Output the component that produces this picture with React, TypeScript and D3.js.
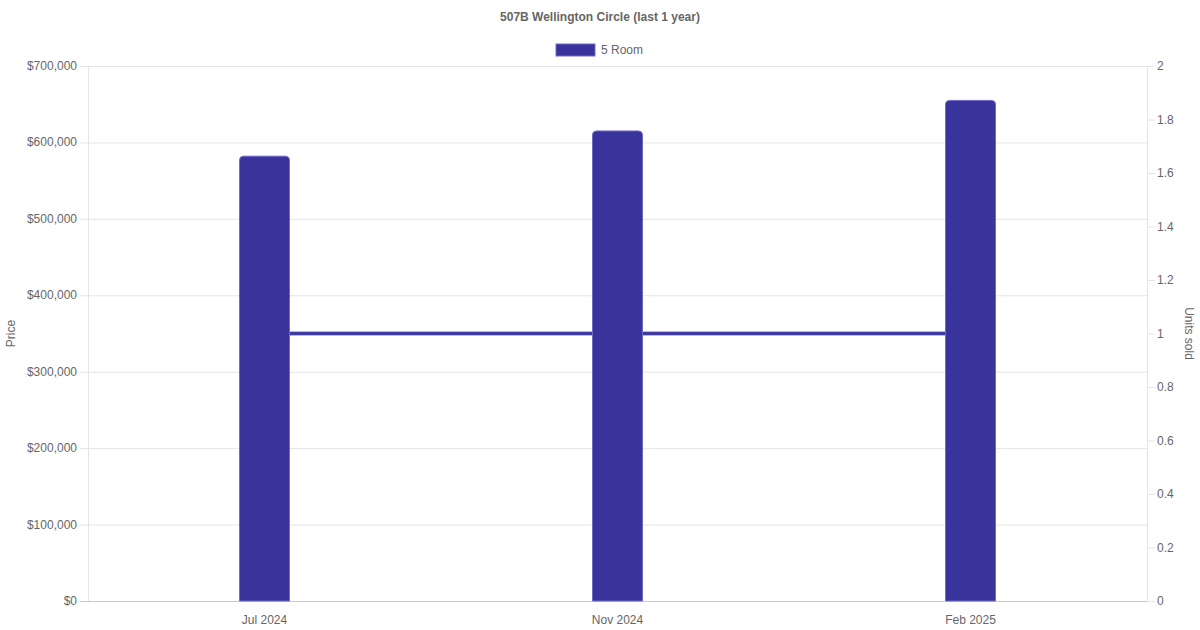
import React from "react";
import * as d3 from "d3";

const categories = ["Jul 2024", "Nov 2024", "Feb 2025"];
const prices = [582000, 615000, 655000];
const units = [1, 1, 1];
const priceTicks = [0, 100000, 200000, 300000, 400000, 500000, 600000, 700000];
const unitTicks = [0, 0.2, 0.4, 0.6, 0.8, 1, 1.2, 1.4, 1.6, 1.8, 2];
const seriesName = "5 Room";
const title = "507B Wellington Circle (last 1 year)";

const W = 1200, H = 630;
const L = 88, R = 1147, T = 66, B = 601;
const COLOR = "#38349c";
const BORDER = "#6e6ac8";
const FONT = "'Liberation Sans', Arial, Helvetica, sans-serif";

export default function App() {
  const x = d3.scaleBand().domain(categories).range([L, R]).paddingInner(0).paddingOuter(0);
  const yP = d3.scaleLinear().domain([0, 700000]).range([B, T]);
  const yU = d3.scaleLinear().domain([0, 2]).range([B, T]);
  const barW = 50;
  const cx = (c: string) => (x(c) as number) + x.bandwidth() / 2;
  const fmt = (v: number) => "$" + d3.format(",")(v);
  const line = d3.line<number>().x((_, i) => cx(categories[i])).y((d) => yU(d));
  const r = 4;
  const barPath = (x0: number, y0: number, w: number, h: number) =>
    `M${x0},${y0 + h}V${y0 + r}Q${x0},${y0} ${x0 + r},${y0}H${x0 + w - r}Q${x0 + w},${y0} ${x0 + w},${y0 + r}V${y0 + h}Z`;

  return (
    <svg width={W} height={H} style={{ position: "absolute", left: 0, top: 0, background: "#fff" }} fontFamily={FONT}>
      <rect width={W} height={H} fill="#fff" />
      <text x={600} y={21} textAnchor="middle" fontSize={12} fontWeight="bold" fill="#666">{title}</text>
      <rect x={556} y={44} width={39} height={12} fill={COLOR} stroke={BORDER} strokeWidth={1} />
      <text x={601} y={54} fontSize={12} fill="#666">{seriesName}</text>

      {priceTicks.map((t) => (
        <g key={"p" + t}>
          <line x1={80} x2={R} y1={yP(t) + 0.5} y2={yP(t) + 0.5} stroke={t === 0 ? "#cccccc" : "#e5e5e5"} strokeWidth={1} />
          <text x={77} y={yP(t) + 4} textAnchor="end" fontSize={12} fill="#666">{fmt(t)}</text>
        </g>
      ))}
      <line x1={L + 0.5} x2={L + 0.5} y1={T} y2={B} stroke="#e5e5e5" />
      <line x1={R + 0.5} x2={R + 0.5} y1={T} y2={B} stroke="#e5e5e5" />
      {unitTicks.map((t) => (
        <g key={"u" + t}>
          <line x1={R} x2={R + 8} y1={yU(t) + 0.5} y2={yU(t) + 0.5} stroke="#e5e5e5" />
          <text x={1157} y={yU(t) + 4} fontSize={12} fill="#666">{String(t)}</text>
        </g>
      ))}
      <line x1={L} x2={R} y1={B + 0.5} y2={B + 0.5} stroke="#cccccc" />

      {categories.map((c) => (
        <text key={c} x={cx(c)} y={624} textAnchor="middle" fontSize={12} fill="#666">{c}</text>
      ))}

      <text transform={`translate(15,${(T + B) / 2}) rotate(-90)`} textAnchor="middle" fontSize={12} fill="#666">Price</text>
      <text transform={`translate(1185,${(T + B) / 2}) rotate(90)`} textAnchor="middle" fontSize={12} fill="#666">Units sold</text>

      <path d={line(units) || ""} fill="none" stroke={BORDER} strokeWidth={4} />
      <path d={line(units) || ""} fill="none" stroke={COLOR} strokeWidth={2.5} />

      {categories.map((c, i) => {
        const x0 = cx(c) - barW / 2;
        const y0 = yP(prices[i]);
        return <path key={"b" + c} d={barPath(x0, y0, barW, B - y0)} fill={COLOR} stroke={BORDER} strokeWidth={1} />;
      })}
    </svg>
  );
}
